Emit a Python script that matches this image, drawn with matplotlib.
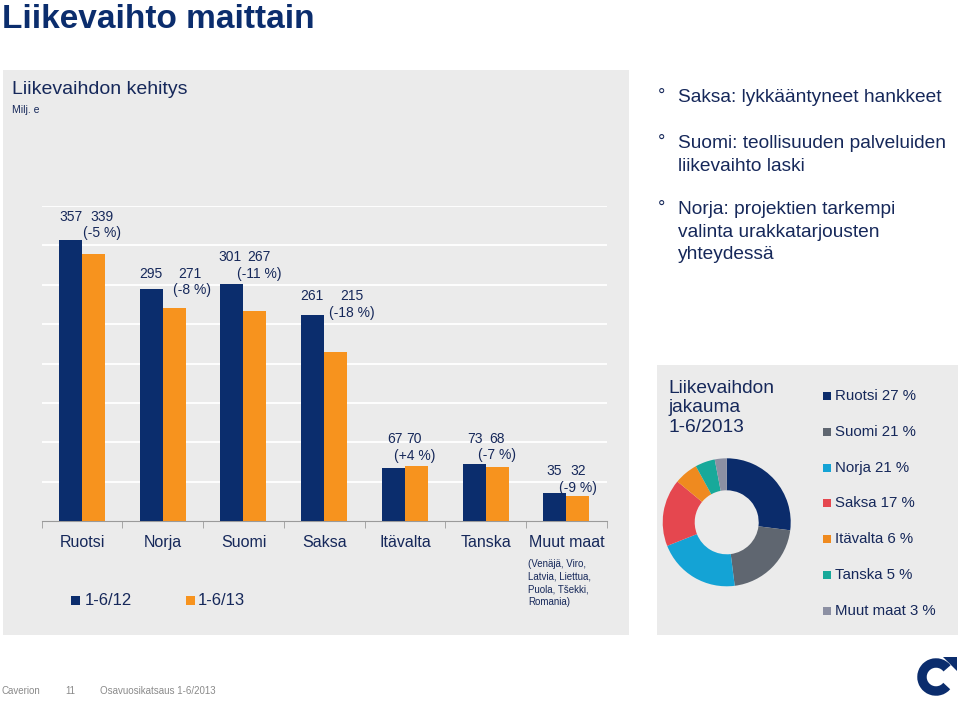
import numpy as np
import matplotlib
matplotlib.use('Agg')
from matplotlib import pyplot as plt
from matplotlib.patches import Rectangle, Arc, Polygon

plt.rcParams['font.family'] = ['Liberation Sans', 'DejaVu Sans']

# data
maat = ['Ruotsi', 'Norja', 'Suomi', 'Saksa', 'Itävalta', 'Tanska', 'Muut maat']
lv_2012 = [357, 295, 301, 261, 67, 73, 35]
lv_2013 = [339, 271, 267, 215, 70, 68, 32]
muutos = ['(-5 %)', '(-8 %)', '(-11 %)', '(-18 %)', '(+4 %)', '(-7 %)', '(-9 %)']
jakauma_maat = ['Ruotsi', 'Suomi', 'Norja', 'Saksa', 'Itävalta', 'Tanska', 'Muut maat']
jakauma = [27, 21, 21, 17, 6, 5, 3]

# label placement (pixels from top of 2012 bar)
dx_12 = [-11, -12, -14, -12, -10, -11, -12]
dx_13 = [20, 27, 15, 28, 9, 11, 12]
dx_pct = [20, 29, 16, 28, 10, 11, 12]
dy_1 = [23, 15, 27, 19, 29, 25, 22]
dy_2 = [d - 16.6 for d in dy_1]

W, H = 960, 701
navy = '#0b2d6d'
oranssi = '#f7931e'
teksti = '#16285a'
tausta = '#ebebeb'
piirakka_varit = ['#0b2c6b', '#5f6670', '#14a3d5', '#e5474f', '#ef8a1f', '#17a99a', '#8c90a3']

def ax_px(x, y, w, h):
    return fig.add_axes([x / W, 1 - (y + h) / H, w / W, h / H])

fig = plt.figure(figsize=(W / 100, H / 100), dpi=100)

# pohja: koko kuva pikseleina
bg = fig.add_axes([0, 0, 1, 1])
bg.set_xlim(0, W)
bg.set_ylim(H, 0)
bg.axis('off')
bg.add_patch(Rectangle((3, 70), 626, 565, color=tausta, lw=0))
bg.add_patch(Rectangle((657, 365), 301, 270, color=tausta, lw=0))

bg.text(2, 19, 'Liikevaihto maittain', fontsize=24, fontweight='bold', color=navy, va='center')
bg.text(12, 89, 'Liikevaihdon kehitys', fontsize=14, color=teksti, va='center')
bg.text(12, 110, 'Milj. e', fontsize=7.5, color=teksti, va='center')

# luettelo oikealla ylhaalla
luettelo = [
    ['Saksa: lykkääntyneet hankkeet'],
    ['Suomi: teollisuuden palveluiden', 'liikevaihto laski'],
    ['Norja: projektien tarkempi', 'valinta urakkatarjousten', 'yhteydessä'],
]
alku_y = [98, 144, 210]
for rivit, y0 in zip(luettelo, alku_y):
    bg.text(662, y0 - 2, '°', fontsize=13, color=teksti, va='center', ha='center')
    for j, r in enumerate(rivit):
        bg.text(678, y0 + j * 22.3, r, fontsize=13.8, color=teksti, va='center')

# pylvaiden selite
bg.add_patch(Rectangle((71, 596), 9, 9, color=navy, lw=0))
bg.text(85, 600.5, '1-6/12', fontsize=12, color=teksti, va='center')
bg.add_patch(Rectangle((186, 596), 9, 9, color=oranssi, lw=0))
bg.text(198, 600.5, '1-6/13', fontsize=12, color=teksti, va='center')
bg.text(528, 583, '(Venäjä, Viro,\nLatvia, Liettua,\nPuola, Tšekki,\nRomania)', fontsize=7,
        color=teksti, va='center', linespacing=1.35)

# alatunniste
bg.text(2, 691, 'Caverion', fontsize=7, color='#8a8a8a', va='center')
bg.text(65, 691, '11', fontsize=7, color='#8a8a8a', va='center')
bg.text(100, 691, 'Osavuosikatsaus 1-6/2013', fontsize=7, color='#8a8a8a', va='center')

# logo
bg.add_patch(Arc((936, 677), 28, 28, theta1=40, theta2=322, lw=6.8, color=navy))
bg.add_patch(Polygon([(943, 657), (957, 657), (957, 671)], closed=True, color=navy, lw=0))

# pylvaskaavio
ax = ax_px(41.7, 206, 565, 315)
ax.set_facecolor('none')
x = np.arange(len(maat))
lev = 0.285
ax.bar(x - lev / 2, lv_2012, lev, color=navy, zorder=3)
ax.bar(x + lev / 2, lv_2013, lev, color=oranssi, zorder=3)
ax.set_xlim(-0.5, len(maat) - 0.5)
ax.set_ylim(0, 400)
for g in range(50, 401, 50):
    ax.axhline(g, color='white', lw=1.3, zorder=1)
for s in ['top', 'right', 'left']:
    ax.spines[s].set_visible(False)
ax.spines['bottom'].set_color('#9a9a9a')
ax.set_yticks([])
ax.set_xticks(x, maat)
ax.set_xticks(np.arange(-0.5, len(maat)), minor=True)
ax.tick_params(axis='x', which='major', length=0, pad=10, labelsize=11.5, labelcolor=teksti)
ax.tick_params(axis='x', which='minor', length=5, color='#9a9a9a', direction='out')

for i in range(len(maat)):
    ax.annotate(str(lv_2012[i]), (i, lv_2012[i]), xytext=(dx_12[i], dy_1[i]), textcoords='offset pixels',
                ha='center', va='center', fontsize=10, color=teksti)
    ax.annotate(str(lv_2013[i]), (i, lv_2012[i]), xytext=(dx_13[i], dy_1[i]), textcoords='offset pixels',
                ha='center', va='center', fontsize=10, color=teksti)
    ax.annotate(muutos[i], (i, lv_2012[i]), xytext=(dx_pct[i], dy_2[i]), textcoords='offset pixels',
                ha='center', va='center', fontsize=10, color=teksti)

# jakauma
bg.text(668, 408, 'Liikevaihdon\njakauma\n1-6/2013', fontsize=13.8, color=teksti, va='center',
        linespacing=1.2)
pax = ax_px(662.7, 458.3, 128, 128)
pax.pie(jakauma, colors=piirakka_varit, startangle=90, counterclock=False, radius=1,
        wedgeprops=dict(width=0.5, edgecolor='none'))
pax.set_aspect('equal')
pax.set_xlim(-1, 1)
pax.set_ylim(-1, 1)

for k, (m, p) in enumerate(zip(jakauma_maat, jakauma)):
    yy = 396 + k * 35.8
    bg.add_patch(Rectangle((823, yy - 4), 8, 8, color=piirakka_varit[k], lw=0))
    bg.text(835, yy, f'{m} {p} %', fontsize=10.8, color=teksti, va='center')

fig.savefig('out.png', dpi=100)
